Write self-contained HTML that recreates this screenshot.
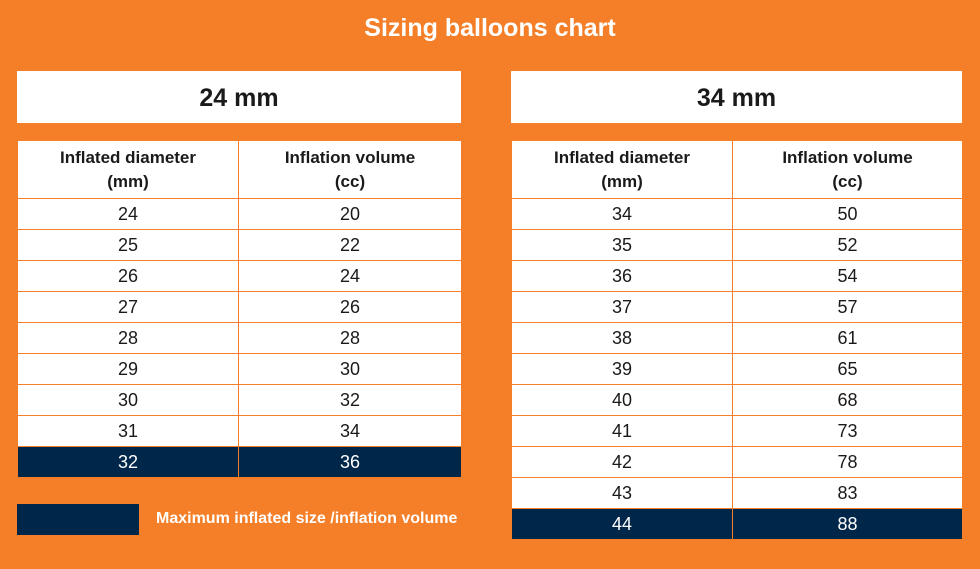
<!DOCTYPE html>
<html><head><meta charset="utf-8"><style>
body{margin:0;width:980px;height:569px;background:#F47F28;font-family:"Liberation Sans",sans-serif;position:relative;overflow:hidden}
.title{position:absolute;left:0;width:980px;top:14px;text-align:center;color:#fff;font-weight:bold;font-size:25px}
.hdr{position:absolute;top:71px;height:52px;background:#fff;text-align:center;line-height:54px;font-weight:bold;font-size:25px;color:#1a1a1a}
table{position:absolute;top:140px;border-collapse:collapse;background:#fff}
td{border:1px solid #F47F28;text-align:center;font-size:18px;color:#1a1a1a;height:30px;padding:0}
th{border:1px solid #F47F28;font-weight:bold;font-size:17px;height:57px;line-height:24px;color:#1a1a1a;padding:0}
tr.max td{background:#00264A;color:#fff}
.leg{position:absolute;left:17px;top:504px;width:122px;height:31px;background:#00264A}
.legt{position:absolute;left:156px;top:510px;color:#fff;font-weight:bold;font-size:16px}
</style></head><body>
<div class="title">Sizing balloons chart</div>
<div class="hdr" style="left:17px;width:444px">24 mm</div>
<div class="hdr" style="left:511px;width:451px">34 mm</div>
<table id="t1" style="left:17px;width:445px"></table>
<table id="t2" style="left:511px;width:452px"></table>
<div class="leg"></div>
<div class="legt">Maximum inflated size /inflation volume</div>
<script>
const diam24=[24,25,26,27,28,29,30,31,32];
const vol24=[20,22,24,26,28,30,32,34,36];
const diam34=[34,35,36,37,38,39,40,41,42,43,44];
const vol34=[50,52,54,57,61,65,68,73,78,83,88];
function build(id,d,v,split){
  const t=document.getElementById(id);
  let h='<tr><th style="width:'+split+'px">Inflated diameter<br>(mm)</th><th>Inflation volume<br>(cc)</th></tr>';
  d.forEach((x,i)=>{
    h+='<tr'+(i===d.length-1?' class="max"':'')+'><td>'+x+'</td><td>'+v[i]+'</td></tr>';
  });
  t.innerHTML=h;
}
build('t1',diam24,vol24,220);
build('t2',diam34,vol34,220);
</script>
</body></html>
